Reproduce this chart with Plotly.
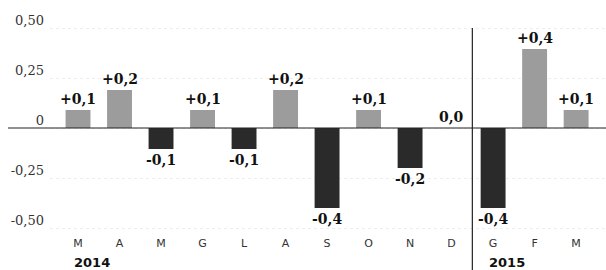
import plotly.graph_objects as go

months = ["M", "A", "M", "G", "L", "A", "S", "O", "N", "D", "G", "F", "M"]
values = [0.09, 0.19, -0.105, 0.09, -0.105, 0.19, -0.40, 0.09, -0.20, 0.0, -0.40, 0.395, 0.09]
labels = ["+0,1", "+0,2", "-0,1", "+0,1", "-0,1", "+0,2", "-0,4", "+0,1", "-0,2", "0,0", "-0,4", "+0,4", "+0,1"]
years = ["2014", "2015"]
year_start_idx = [0, 10]
ytick_vals = [-0.5, -0.25, 0, 0.25, 0.5]
ytick_text = ["-0,50", "-0,25", "0", "0,25", "0,50"]

xs = list(range(len(months)))
colors = ["#9c9c9c" if v >= 0 else "#2a2a2a" for v in values]

fig = go.Figure()
fig.add_trace(go.Bar(x=xs, y=values, marker=dict(color=colors, line=dict(width=0)),
                     width=0.6, hoverinfo="skip"))

ann = []
for x, v, t in zip(xs, values, labels):
    ann.append(dict(x=x, y=v, text="<b>%s</b>" % t, showarrow=False,
                    xref="x", yref="y",
                    yanchor="bottom" if v >= 0 else "top",
                    yshift=1 if v >= 0 else -1,
                    font=dict(family="DejaVu Serif", size=14, color="#111")))
for yr, i in zip(years, year_start_idx):
    ann.append(dict(x=i - 0.15, y=-0.13, text="<b>%s</b>" % yr, showarrow=False,
                    xref="x", yref="paper", xanchor="left", yanchor="middle",
                    font=dict(family="DejaVu Sans", size=13, color="#111")))

fig.update_layout(
    width=606, height=270,
    margin=dict(l=50, r=0, t=20, b=35, autoexpand=False),
    paper_bgcolor="white", plot_bgcolor="white",
    showlegend=False,
    annotations=ann,
    shapes=[
        dict(type="line", xref="paper", yref="y", x0=-0.0755, x1=1, y0=0, y1=0,
             line=dict(color="#222", width=1.2)),
        dict(type="line", xref="x", yref="paper", x0=9.5, x1=9.5, y0=0.963, y1=-0.17,
             line=dict(color="#222", width=1.2)),
    ],
    xaxis=dict(range=[-0.675, 12.72], tickmode="array", tickvals=xs, ticktext=months,
               showgrid=False, zeroline=False, showline=False, ticks="", automargin=False,
               tickfont=dict(family="DejaVu Sans", size=11, color="#333")),
    yaxis=dict(range=[-0.535, 0.54], tickmode="array", tickvals=ytick_vals, ticktext=ytick_text,
               showgrid=True, gridcolor="#ededed", griddash="dot", gridwidth=1,
               zeroline=False, showline=False, ticks="", automargin=False,
               ticklabelshift=-8, ticklabelstandoff=5,
               tickfont=dict(family="DejaVu Serif", size=13, color="#333")),
)

fig.write_html("out.html", config={"displayModeBar": False},
               post_script="document.body.style.margin='0';document.body.style.overflow='hidden';")
